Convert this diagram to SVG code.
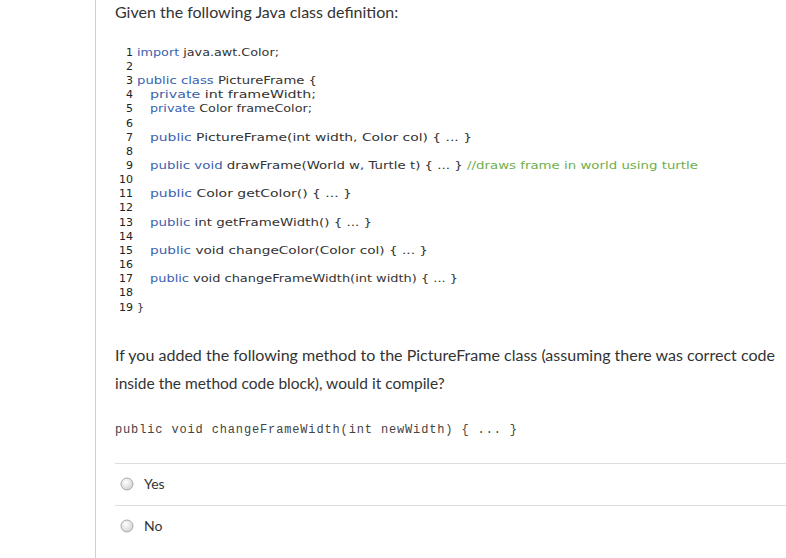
<svg xmlns="http://www.w3.org/2000/svg" width="786" height="558" viewBox="0 0 786 558">
<style>
.c{font-family:"DejaVu Sans",sans-serif;font-size:11px;fill:#333}
.n{font-family:"DejaVu Sans",sans-serif;font-size:11px;fill:#222;text-anchor:end}
.k{fill:#3a62b0}
.g{fill:#6fae4c}
.t{font-family:Lato,"Liberation Sans",sans-serif;fill:#333}
</style>
<defs><radialGradient id="rg" cx="0.4" cy="0.35" r="0.7"><stop offset="0" stop-color="#fff"/><stop offset="1" stop-color="#d0d0d0"/></radialGradient></defs>
<rect width="786" height="558" fill="#fff"/>
<line x1="95.5" y1="0" x2="95.5" y2="558" stroke="#cfcfcf"/>
<text class="t" x="115" y="18" font-size="16">Given the following Java class definition:</text>
<g id="code">
<text class="n" x="133" y="56">1</text><text class="n" x="133" y="70">2</text><text class="n" x="133" y="84">3</text>
<text class="n" x="133" y="98">4</text><text class="n" x="133" y="112">5</text><text class="n" x="133" y="127">6</text>
<text class="n" x="133" y="141">7</text><text class="n" x="133" y="155">8</text><text class="n" x="133" y="169">9</text>
<text class="n" x="133" y="183">10</text><text class="n" x="133" y="197">11</text><text class="n" x="133" y="211">12</text>
<text class="n" x="133" y="226">13</text><text class="n" x="133" y="240">14</text><text class="n" x="133" y="254">15</text>
<text class="n" x="133" y="268">16</text><text class="n" x="133" y="282">17</text><text class="n" x="133" y="296">18</text>
<text class="n" x="133" y="311">19</text>
<text class="c" x="137" y="56" textLength="142" lengthAdjust="spacingAndGlyphs"><tspan class="k">import</tspan> java.awt.Color;</text>
<text class="c" x="137" y="84" textLength="180" lengthAdjust="spacingAndGlyphs"><tspan class="k">public class</tspan> PictureFrame {</text>
<text class="c" x="150" y="98" textLength="166" lengthAdjust="spacingAndGlyphs"><tspan class="k">private</tspan> int frameWidth;</text>
<text class="c" x="150" y="112" textLength="162" lengthAdjust="spacingAndGlyphs"><tspan class="k">private</tspan> Color frameColor;</text>
<text class="c" x="150" y="141" textLength="322" lengthAdjust="spacingAndGlyphs"><tspan class="k">public</tspan> PictureFrame(int width, Color col) { ... }</text>
<text class="c" x="150" y="169" textLength="548" lengthAdjust="spacingAndGlyphs"><tspan class="k">public void</tspan> drawFrame(World w, Turtle t) { ... } <tspan class="g">//draws frame in world using turtle</tspan></text>
<text class="c" x="150" y="197" textLength="202" lengthAdjust="spacingAndGlyphs"><tspan class="k">public</tspan> Color getColor() { ... }</text>
<text class="c" x="150" y="226" textLength="222" lengthAdjust="spacingAndGlyphs"><tspan class="k">public</tspan> int getFrameWidth() { ... }</text>
<text class="c" x="150" y="254" textLength="278" lengthAdjust="spacingAndGlyphs"><tspan class="k">public</tspan> void changeColor(Color col) { ... }</text>
<text class="c" x="150" y="282" textLength="308" lengthAdjust="spacingAndGlyphs"><tspan class="k">public</tspan> void changeFrameWidth(int width) { ... }</text>
<text class="c" x="137" y="311">}</text>
</g>
<text class="t" x="115" y="361" font-size="15.5" textLength="660" lengthAdjust="spacingAndGlyphs">If you added the following method to the PictureFrame class (assuming there was correct code</text>
<text class="t" x="115" y="389" font-size="15.5">inside the method code block), would it compile?</text>
<text x="115" y="433" font-family="Liberation Mono,monospace" font-size="12" fill="#444" textLength="402" lengthAdjust="spacing">public void changeFrameWidth(int newWidth) { ... }</text>
<line x1="115" y1="463.5" x2="786" y2="463.5" stroke="#ddd"/>
<line x1="115" y1="505.5" x2="786" y2="505.5" stroke="#ddd"/>
<g id="yes"><circle cx="127" cy="484" r="6" fill="url(#rg)" stroke="#aaa"/><text class="t" x="144" y="489" font-size="14">Yes</text></g>
<g id="no"><circle cx="127" cy="526" r="6" fill="url(#rg)" stroke="#aaa"/><text class="t" x="144" y="531" font-size="14">No</text></g>
</svg>
